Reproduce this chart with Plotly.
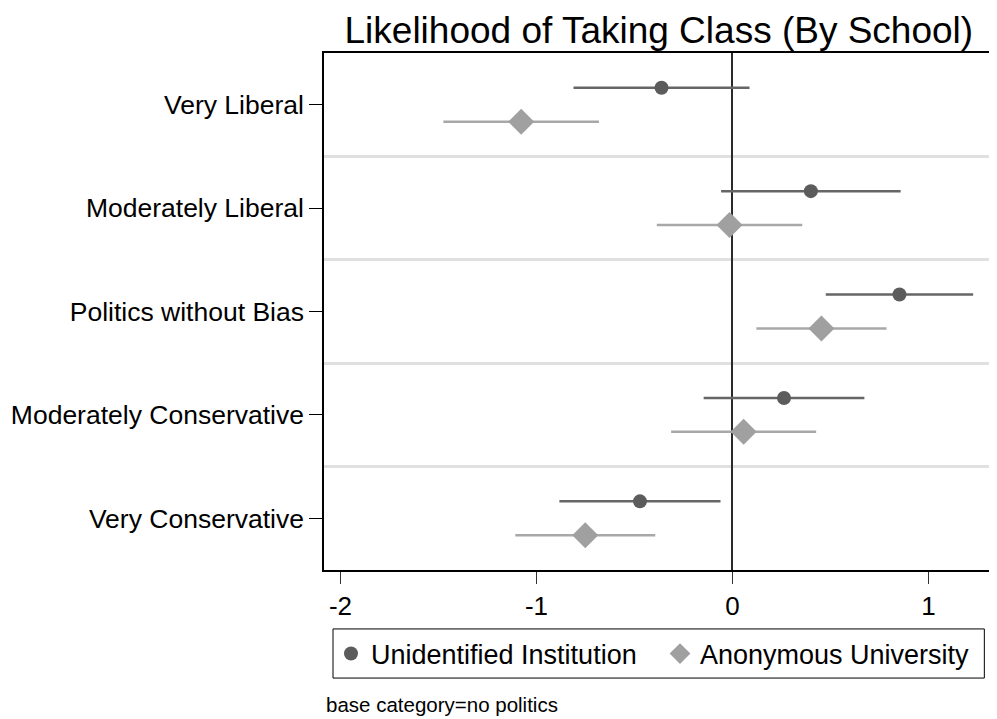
import plotly.graph_objects as go

categories = ["Very Liberal", "Moderately Liberal", "Politics without Bias",
              "Moderately Conservative", "Very Conservative"]
tick_vals_x = [-2, -1, 0, 1]

# Unidentified Institution: coefficient and CI half-width
ui_coef = [-0.362, 0.400, 0.852, 0.263, -0.472]
ui_half = [0.449, 0.458, 0.376, 0.410, 0.411]
# Anonymous University
au_coef = [-1.078, -0.015, 0.454, 0.057, -0.751]
au_half = [0.397, 0.371, 0.332, 0.370, 0.357]

FONT = "Liberation Sans, Arial, sans-serif"
offset = 0.164
pos = list(range(1, len(categories) + 1))

fig = go.Figure()
fig.add_trace(go.Scatter(
    x=ui_coef, y=[p - offset for p in pos], mode="markers",
    name="Unidentified Institution",
    marker=dict(symbol="circle", size=14, color="#5c5c5c"),
    error_x=dict(type="data", array=ui_half, symmetric=True, width=0,
                 thickness=2.5, color="#666666"),
))
fig.add_trace(go.Scatter(
    x=au_coef, y=[p + offset for p in pos], mode="markers",
    name="Anonymous University",
    marker=dict(symbol="diamond", size=20, color="#a0a0a0"),
    error_x=dict(type="data", array=au_half, symmetric=True, width=0,
                 thickness=2.5, color="#a8a8a8"),
))

# legend frame
fig.add_shape(type="rect", xref="paper", yref="paper",
              x0=0.0135, x1=0.99, y0=-0.209, y1=-0.114,
              line=dict(color="black", width=1), fillcolor="rgba(0,0,0,0)")

fig.add_annotation(text="base category=no politics", xref="paper", yref="paper",
                   x=0.0, y=-0.261, xanchor="left", yanchor="middle",
                   showarrow=False, font=dict(family=FONT, size=20.5, color="black"))

fig.update_layout(
    width=989, height=711,
    margin=dict(l=316, r=6, t=45, b=149, autoexpand=False),
    paper_bgcolor="white", plot_bgcolor="white",
    font=dict(family=FONT, color="black"),
    title=dict(text="Likelihood of Taking Class (By School)", x=0.502, xref="paper",
               xanchor="center", y=0.969, yanchor="middle",
               font=dict(family=FONT, size=37, color="black")),
    showlegend=True,
    legend=dict(orientation="h", x=0.0105, xanchor="left", y=-0.1625, yanchor="middle",
                font=dict(family=FONT, size=27, color="black"),
                bgcolor="rgba(0,0,0,0)", borderwidth=0,
                entrywidth=284, entrywidthmode="pixels", itemclick=False),
    xaxis=dict(range=[-2.084, 1.319], tickvals=tick_vals_x,
               ticktext=[str(v) for v in tick_vals_x],
               showgrid=False, zeroline=True, zerolinecolor="#2a2a2a", zerolinewidth=2,
               showline=True, linecolor="black", linewidth=1.5, mirror=True,
               ticks="outside", ticklen=12, tickwidth=1.2, tickcolor="#333333",
               tickfont=dict(family=FONT, size=26, color="black")),
    yaxis=dict(range=[5.5, 0.5], tickvals=pos, ticktext=categories,
               showgrid=False, zeroline=False,
               showline=True, linecolor="black", linewidth=1.5, mirror=True,
               ticks="outside", ticklen=13, tickwidth=1.2, tickcolor="black",
               tickfont=dict(family=FONT, size=26.5, color="black"),
               minor=dict(tick0=0.5, dtick=1, showgrid=True, gridcolor="#e0e0e0",
                          gridwidth=2.5, ticks="")),
)

fig.write_html("out.html")
